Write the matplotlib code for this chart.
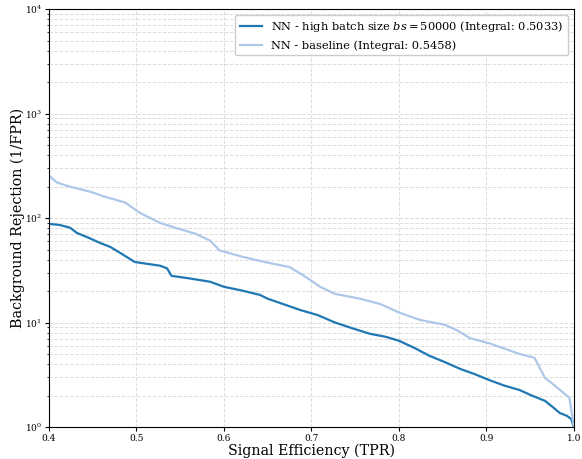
import numpy as np
from matplotlib import pyplot as plt

plt.rcParams['font.family'] = 'DejaVu Serif'
plt.rcParams['mathtext.fontset'] = 'dejavuserif'

# curve points (TPR, 1/FPR)
tpr_bs = [0.400, 0.412, 0.424, 0.432, 0.445, 0.458, 0.470, 0.484, 0.498, 0.512,
          0.527, 0.535, 0.540, 0.560, 0.584, 0.600, 0.620, 0.641, 0.650, 0.668,
          0.687, 0.707, 0.727, 0.747, 0.767, 0.785, 0.800, 0.818, 0.835, 0.852,
          0.870, 0.887, 0.904, 0.920, 0.938, 0.952, 0.967, 0.976, 0.984, 0.992,
          0.997, 1.000]
rej_bs = [88, 86, 81, 72, 65, 58, 53, 45, 38, 36.5,
          35, 33, 28, 26.5, 24.6, 22, 20.3, 18.4, 16.9, 15,
          13.2, 11.8, 10, 8.8, 7.8, 7.3, 6.7, 5.7, 4.8, 4.2,
          3.6, 3.2, 2.8, 2.5, 2.26, 2.0, 1.78, 1.55, 1.36, 1.28,
          1.19, 1.0]

tpr_base = [0.400, 0.409, 0.424, 0.447, 0.464, 0.487, 0.504, 0.527, 0.544, 0.567,
            0.584, 0.595, 0.624, 0.653, 0.675, 0.693, 0.710, 0.727, 0.756, 0.779,
            0.801, 0.824, 0.853, 0.868, 0.881, 0.904, 0.938, 0.955, 0.967, 0.978,
            0.995, 1.000]
rej_base = [255, 219, 200, 179, 160, 141, 112, 90, 81, 71,
            61, 49, 42, 37, 34, 27.5, 22, 18.8, 16.9, 15,
            12.4, 10.6, 9.5, 8.3, 7.1, 6.3, 5.0, 4.6, 2.95, 2.5,
            1.9, 1.0]

labels = [r'NN - high batch size $bs = 50000$ (Integral: 0.5033)',
          'NN - baseline (Integral: 0.5458)']

fig = plt.figure(figsize=(5.82, 4.59), dpi=100)
ax = fig.add_axes([0.0842, 0.0697, 0.9018, 0.9103])

ax.plot(tpr_bs, rej_bs, color='#1f77b4', lw=1.6, label=labels[0])
ax.plot(tpr_base, rej_base, color='#aec7e8', lw=1.6, label=labels[1])

ax.set_yscale('log')
ax.set_xlim(0.4, 1.0)
ax.set_ylim(1, 1e4)
ax.set_xlabel('Signal Efficiency (TPR)', fontsize=10.3)
ax.set_ylabel('Background Rejection (1/FPR)', fontsize=10.3)
ax.xaxis.set_label_coords(0.5, -0.039)
ax.yaxis.set_label_coords(-0.045, 0.5)
ax.tick_params(labelsize=6.5, pad=2, length=3)
ax.tick_params(which='minor', length=1.8)
ax.grid(True, which='both', ls='--', color='#dddddd', lw=0.7)
ax.legend(loc='upper right', fontsize=8.2, framealpha=1)

plt.savefig('out.png', dpi=100)
